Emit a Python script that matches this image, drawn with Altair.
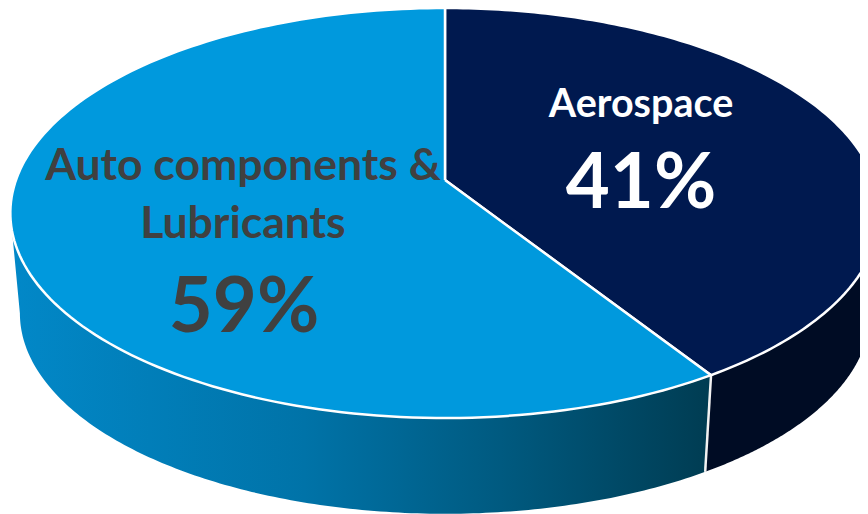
import numpy as np
import pandas as pd
import altair as alt

# Chart values
categories = ["Aerospace", "Auto components & Lubricants"]
shares = [41, 59]
percent_labels = ["41%", "59%"]

# Tilted-disc projection of the pie (picture pixels)
CX, CY = 445.0, 180.0
A, B, K = 429.0, 199.7, 0.161
BOTTOM_SCALE, BOTTOM_CY = 0.978, 281.0


def project(theta_deg, bottom=False):
    t = np.radians(np.asarray(theta_deg, dtype=float))
    u, v = np.sin(t), np.cos(t)
    w = 1 + K * v
    x, y = A * u / w, -B * v / w
    if bottom:
        return CX + BOTTOM_SCALE * x, BOTTOM_CY + BOTTOM_SCALE * y
    return CX + x, CY + y


def arc(a, b, n=160):
    return np.linspace(a, b, n)


def frame(xs, ys):
    return pd.DataFrame({"x": xs, "y": ys, "i": np.arange(len(xs))})


def sector(a, b):
    x, y = project(arc(a, b))
    return frame(np.r_[CX, x, CX], np.r_[CY, y, CY])


def wall(a, b):
    t = arc(a, b)
    x1, y1 = project(t)
    x2, y2 = project(t[::-1], bottom=True)
    return frame(np.r_[x1, x2, x1[0]], np.r_[y1, y2, y1[0]])


split = 360 * shares[0] / sum(shares)
tangent_r = np.degrees(np.arccos(-K))
tangent_l = 360 - tangent_r

xs = alt.X("x:Q", axis=None, scale=alt.Scale(domain=[8, 860], nice=False, zero=False))
ys = alt.Y("y:Q", axis=None, scale=alt.Scale(domain=[514, 8], nice=False, zero=False))


def poly(df, fill, stroke=None, sw=0):
    kw = {"fill": fill, "clip": True, "interpolate": "linear"}
    if stroke:
        kw.update(stroke=stroke, strokeWidth=sw)
    else:
        kw.update(stroke="transparent", strokeWidth=0)
    return alt.Chart(df).mark_line(**kw).encode(x=xs, y=ys, order=alt.Order("i:Q"))


side_grad = alt.Gradient(
    gradient="linear", x1=0, y1=0, x2=1, y2=0,
    stops=[
        alt.GradientStop(color="#0288C8", offset=0),
        alt.GradientStop(color="#0073A8", offset=0.42),
        alt.GradientStop(color="#005A80", offset=0.7),
        alt.GradientStop(color="#003C52", offset=1),
    ],
)

tx, ty = project(split)
bx, by = project(split, True)
layers = [
    poly(wall(tangent_r, split), "#000C24"),
    poly(wall(split, tangent_l), side_grad),
    poly(frame([tx, bx], [ty, by]), "transparent", "#F2F2F2", 2.5),
    poly(sector(0, split), "#00194F", "#FFFFFF", 2.5),
    poly(sector(split, 360), "#0099DD", "#FFFFFF", 2.5),
]

font = "Lato"
texts = [
    (categories[0], 641, 105, 39.5, "#FFFFFF"),
    (percent_labels[0], 641, 185, 76, "#FFFFFF"),
    ("Auto components &", 243, 167, 44.5, "#404040"),
    ("Lubricants", 243, 225, 44.5, "#404040"),
    (percent_labels[1], 244, 309, 76, "#404040"),
]
for label, px, py, size, color in texts:
    layers.append(
        alt.Chart(pd.DataFrame({"t": [label], "x": [px], "y": [py]}))
        .mark_text(font=font, fontWeight="bold", fontSize=size, color=color,
                   align="center", baseline="middle")
        .encode(x=xs, y=ys, text="t:N")
    )

chart = (
    alt.layer(*layers)
    .properties(width=852, height=506, padding=0, background="white",
                autosize=alt.AutoSizeParams(type="none"))
    .configure_view(stroke=None)
)
chart.save("out.html", embed_options={"renderer": "svg", "actions": False})
